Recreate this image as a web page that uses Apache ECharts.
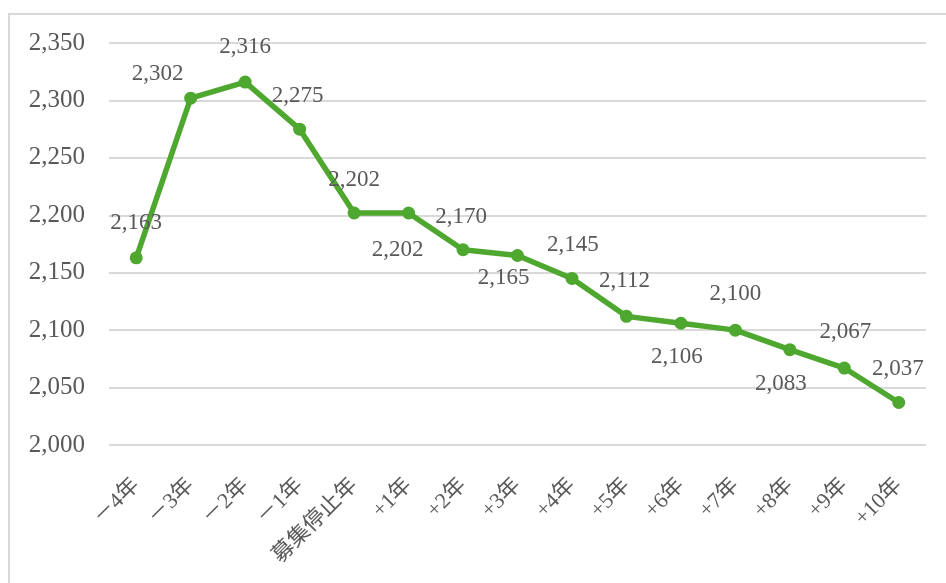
<!DOCTYPE html>
<html>
<head>
<meta charset="utf-8">
<script src="https://cdn.jsdelivr.net/npm/echarts@6/dist/echarts.min.js"></script>
<style>
  html, body { margin: 0; padding: 0; background: #fff; }
  #chart { width: 946px; height: 583px; }
</style>
</head>
<body>
<div id="chart"></div>
<script>
// Years relative to the year recruitment stopped
const categories = ['－4年', '－3年', '－2年', '－1年', '募集停止年', '+1年', '+2年', '+3年', '+4年', '+5年', '+6年', '+7年', '+8年', '+9年', '+10年'];
const values = [2163, 2302, 2316, 2275, 2202, 2202, 2170, 2165, 2145, 2112, 2106, 2100, 2083, 2067, 2037];
const yTicks = [2000, 2050, 2100, 2150, 2200, 2250, 2300, 2350];

// Where each value label sits relative to its point (dx, dy in px)
const labelOffsets = [
  [0, -35], [-33, -24], [0, -35], [-2, -33], [0, -33],
  [-11, 37], [-2, -33], [-14, 22], [1, -34], [-2, -35],
  [-4, 34], [0, -36], [-9, 34], [1, -36], [-1, -34]
];

const textColor = '#595959';
const serif = '"Liberation Serif", "Noto Sans CJK JP", serif';
const fmt = v => v.toLocaleString('en-US');

const chart = echarts.init(document.getElementById('chart'), null, { renderer: 'canvas' });
chart.setOption({
  animation: false,
  backgroundColor: '#ffffff',
  graphic: [{
    type: 'rect',
    shape: { x: 9, y: 14, width: 1000, height: 700 },
    style: { fill: 'none', stroke: '#d9d9d9', lineWidth: 2 },
    silent: true,
    z: -1
  }],
  grid: { left: 109, right: 20, top: 43, bottom: 138, containLabel: false },
  xAxis: {
    type: 'category',
    data: categories,
    boundaryGap: true,
    axisLine: { show: false },
    axisTick: { show: false },
    axisLabel: {
      rotate: 45,
      margin: 37,
      color: textColor,
      fontSize: 22,
      fontFamily: serif,
      interval: 0
    }
  },
  yAxis: {
    type: 'value',
    min: yTicks[0],
    max: yTicks[yTicks.length - 1],
    interval: yTicks[1] - yTicks[0],
    axisLine: { show: false },
    axisTick: { show: false },
    axisLabel: {
      margin: 24,
      color: textColor,
      fontSize: 25,
      fontFamily: serif,
      formatter: fmt
    },
    splitLine: { lineStyle: { color: '#d9d9d9', width: 2 } }
  },
  series: [{
    type: 'line',
    data: values.map((v, i) => ({
      value: v,
      label: { offset: labelOffsets[i] }
    })),
    symbol: 'circle',
    symbolSize: 13,
    lineStyle: { color: '#4ea72e', width: 5.5 },
    itemStyle: { color: '#4ea72e' },
    label: {
      show: true,
      position: 'inside',
      color: textColor,
      fontSize: 23,
      fontFamily: serif,
      formatter: p => fmt(p.value)
    }
  }]
});
</script>
</body>
</html>
